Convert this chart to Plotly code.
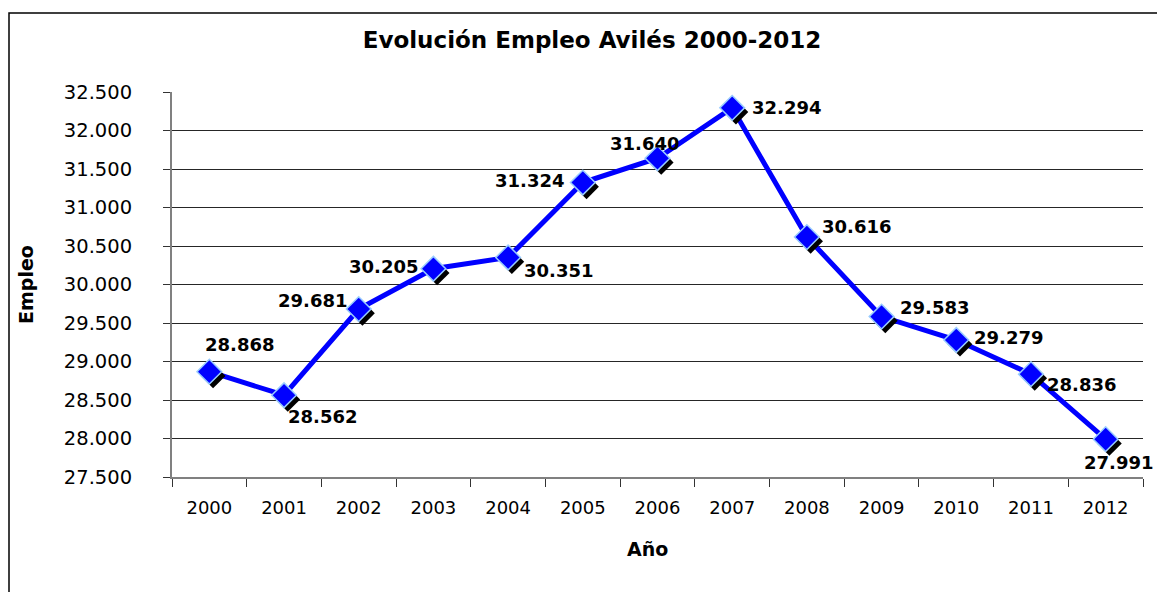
import plotly.graph_objects as go

years = ["2000", "2001", "2002", "2003", "2004", "2005", "2006",
         "2007", "2008", "2009", "2010", "2011", "2012"]
empleo = [28868, 28562, 29681, 30205, 30351, 31324, 31640,
          32294, 30616, 29583, 29279, 28836, 27991]
y_ticks = [27500, 28000, 28500, 29000, 29500, 30000, 30500,
           31000, 31500, 32000, 32500]

xi = list(range(len(years)))
# label offsets in pixels (style only)
label_dx = [30, 38, -46, -50, 50, -53, -13, 54, 50, 53, 52, 51, 13]
label_dy = [27, -21, 9, 2, -13, 2, 15, 0, 11, 9, 3, -10, -23]

FONT = "DejaVu Sans"
# page body has an 8px margin; compensate
OFF = 8
W, H = 1165 - OFF, 592 - OFF
ML, MT = 172 - OFF, 92 - OFF
PW, PH = 971, 385
MR = W - ML - PW
MB = H - MT - PH

fig = go.Figure()
fig.add_trace(go.Scatter(x=xi, y=empleo, mode="lines",
                         line=dict(color="#0000FF", width=5),
                         hoverinfo="skip", showlegend=False))
fig.add_trace(go.Scatter(x=[v + 0.05 for v in xi], y=[v - 55 for v in empleo],
                         mode="markers",
                         marker=dict(symbol="diamond", size=19, color="black",
                                     line=dict(width=0)),
                         hoverinfo="skip", showlegend=False))
fig.add_trace(go.Scatter(x=xi, y=empleo, mode="markers",
                         marker=dict(symbol="diamond", size=19, color="#0000FF",
                                     line=dict(color="#99CCFF", width=1.5)),
                         showlegend=False))

for i, v in enumerate(empleo):
    fig.add_annotation(x=xi[i], y=v, text="<b>" + f"{v:,}".replace(",", ".") + "</b>",
                       showarrow=False, xshift=label_dx[i], yshift=label_dy[i],
                       font=dict(family=FONT, size=18, color="black"))

fig.add_annotation(xref="paper", yref="paper", x=(647 - 172) / PW,
                   y=(477 - 549) / PH, xanchor="center", yanchor="middle",
                   text="<b>Año</b>", showarrow=False,
                   font=dict(family=FONT, size=19, color="black"))

fig.update_layout(
    width=W, height=H,
    margin=dict(l=ML, r=MR, t=MT, b=MB, pad=0),
    paper_bgcolor="white", plot_bgcolor="white",
    separators=",.",
    font=dict(family=FONT, size=18, color="black"),
    title=dict(text="<b>Evolución Empleo Avilés 2000-2012</b>",
               font=dict(family=FONT, size=23, color="black"),
               x=(592 - OFF) / W, xref="container", xanchor="center",
               y=1 - (40 - OFF) / H, yref="container", yanchor="middle"),
    xaxis=dict(range=[-0.5, 12.5], tickmode="array", tickvals=xi,
               ticktext=years, ticks="", ticklen=0,
               showgrid=False, zeroline=False,
               showline=True, linecolor="#808080", linewidth=2,
               ticklabelstandoff=13,
               tickfont=dict(family=FONT, size=18, color="black"),
               minor=dict(tickmode="linear", tick0=-0.5, dtick=1,
                          ticks="outside", ticklen=8, tickcolor="#333333",
                          tickwidth=1, showgrid=False)),
    yaxis=dict(range=[27500, 32500], tickmode="array", tickvals=y_ticks,
               tickformat=",.0f",
               ticks="outside", ticklen=7, tickcolor="#333333",
               showgrid=True, gridcolor="#262626", gridwidth=1,
               zeroline=False,
               showline=True, linecolor="#808080", linewidth=2,
               ticklabelstandoff=27,
               tickfont=dict(family=FONT, size=19.5, color="black"),
               title=dict(text="<b>Empleo</b>", standoff=25,
                          font=dict(family=FONT, size=19, color="black"))),
)

fig.add_shape(type="rect", xref="paper", yref="paper",
              x0=(9 - 172) / PW, x1=1.1, y0=-0.4, y1=(477 - 13) / PH,
              line=dict(color="black", width=1.5), fillcolor="rgba(0,0,0,0)",
              layer="below")

fig.write_html("out.html")
